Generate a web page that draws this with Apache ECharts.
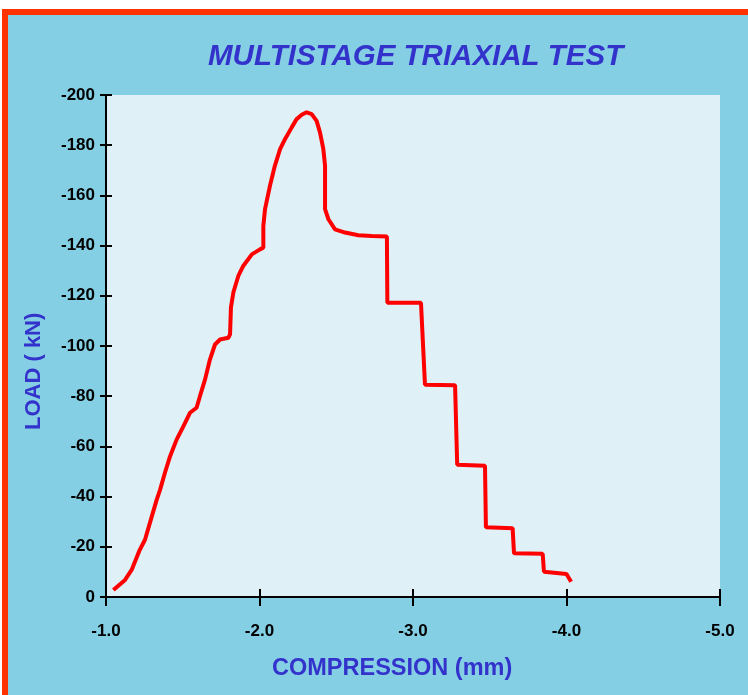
<!DOCTYPE html>
<html>
<head>
<meta charset="utf-8">
<title>Multistage triaxial test</title>
<script src="https://cdn.jsdelivr.net/npm/echarts@6/dist/echarts.min.js"></script>
<style>
  html, body { margin: 0; padding: 0; background: #ffffff; }
  #wrap { position: relative; width: 748px; height: 695px; overflow: hidden; background: #ffffff; }
  #frame { position: absolute; left: 2px; top: 9px; width: 780px; height: 720px;
           background: #85cfe4; border: 6px solid #ff3300; box-sizing: border-box; }
  #MainContent { position: absolute; left: 0; top: 0; width: 748px; height: 695px; }
</style>
</head>
<body>
<div id="wrap">
  <div id="frame"></div>
  <div id="MainContent"></div>
</div>
<script>
// compression (mm) and load (kN)
var compression = [-1.048, -1.124, -1.167, -1.22, -1.254, -1.298, -1.33, -1.352, -1.384, -1.417,
    -1.46, -1.504, -1.547, -1.59, -1.612, -1.645, -1.677, -1.71, -1.743, -1.797,
    -1.808, -1.814, -1.83, -1.862, -1.894, -1.95, -2.003, -2.025, -2.025, -2.036,
    -2.068, -2.1, -2.134, -2.166, -2.21, -2.242, -2.275, -2.307, -2.34, -2.372,
    -2.394, -2.416, -2.427, -2.427, -2.449, -2.492, -2.557, -2.644, -2.731, -2.83,
    -2.833, -3.052, -3.078, -3.274, -3.288, -3.469, -3.475, -3.649, -3.658, -3.845,
    -3.853, -4.0, -4.03];
var load = [-2.8, -6.8, -10.8, -18.8, -22.8, -32, -38.7, -42.7, -49.5, -56,
    -62.7, -68, -73.4, -75.4, -80, -86.6, -94.6, -100.6, -102.6, -103.3,
    -104.6, -115.4, -121.4, -127.9, -131.9, -136.5, -138.5, -139.2, -147.8, -154.5,
    -163.8, -171.8, -178.4, -182.4, -187.1, -190.4, -192.1, -193.1, -192.4, -189.7,
    -185.1, -178.4, -171.8, -154.5, -150.5, -146.5, -145.2, -144.1, -143.8, -143.6,
    -117.2, -117.2, -84.6, -84.4, -52.7, -52.3, -27.8, -27.4, -17.4, -17.2,
    -10.1, -9.2, -6.1];

var xRange = [-5, -1];
var yRange = [-200, 0];

function draw() {
    var chart = echarts.init(document.getElementById('MainContent'));

    var points = [];
    for (var i = 0; i < compression.length; i++) {
        points.push([compression[i], load[i]]);
    }

    var font = 'Liberation Sans, Arial, sans-serif';
    var blue = '#3333cc';

    var xBase = {
        type: 'value',
        min: xRange[0],
        max: xRange[1],
        interval: 1,
        inverse: true,
        splitLine: { show: false }
    };
    var yBase = {
        type: 'value',
        min: yRange[0],
        max: yRange[1],
        interval: 20,
        inverse: true,
        splitLine: { show: false }
    };

    var option = {
        backgroundColor: 'transparent',
        animation: false,
        title: {
            text: 'MULTISTAGE TRIAXIAL TEST',
            left: 203,
            top: 37,
            textStyle: {
                color: blue,
                fontFamily: font,
                fontSize: 29.5,
                fontWeight: 'bold',
                fontStyle: 'italic'
            }
        },
        grid: {
            left: 106,
            right: 28,
            top: 95,
            bottom: 98,
            show: true,
            backgroundColor: '#dff1f7',
            borderWidth: 0
        },
        xAxis: [
            Object.assign({}, xBase, {
                position: 'bottom',
                axisLine: { show: true, onZero: false, lineStyle: { color: '#000', width: 2 } },
                axisTick: { show: true, inside: false, length: 9, lineStyle: { color: '#000', width: 2 } },
                axisLabel: {
                    color: '#000', fontFamily: font, fontSize: 17, fontWeight: 'bold', margin: 26,
                    formatter: function (v) { return v.toFixed(1); }
                }
            }),
            Object.assign({}, xBase, {
                position: 'bottom',
                axisLine: { show: false },
                axisTick: { show: true, inside: true, length: 8, lineStyle: { color: '#000', width: 2 } },
                axisLabel: { show: false }
            })
        ],
        yAxis: [
            Object.assign({}, yBase, {
                position: 'left',
                axisLine: { show: true, onZero: false, lineStyle: { color: '#000', width: 2 } },
                axisTick: { show: true, inside: false, length: 6, lineStyle: { color: '#000', width: 2 } },
                axisLabel: {
                    color: '#000', fontFamily: font, fontSize: 17, fontWeight: 'bold', margin: 11,
                    formatter: function (v) { return String(v); }
                }
            }),
            Object.assign({}, yBase, {
                position: 'left',
                axisLine: { show: false },
                axisTick: { show: true, inside: true, length: 6, lineStyle: { color: '#000', width: 2 } },
                axisLabel: { show: false }
            })
        ],
        graphic: [
            {
                type: 'text',
                left: 272,
                top: 657,
                style: {
                    text: 'COMPRESSION (mm)',
                    fill: blue,
                    font: 'bold 23.5px ' + font
                }
            },
            {
                type: 'text',
                x: 23,
                y: 430,
                rotation: Math.PI / 2,
                style: {
                    text: 'LOAD ( kN)',
                    fill: blue,
                    font: 'bold 22px ' + font,
                    textVerticalAlign: 'top'
                }
            }
        ],
        series: [{
            type: 'line',
            xAxisIndex: 0,
            yAxisIndex: 0,
            showSymbol: false,
            lineStyle: { color: '#ff0000', width: 4 },
            data: points
        }]
    };

    chart.setOption(option);
}

draw();
</script>
</body>
</html>
